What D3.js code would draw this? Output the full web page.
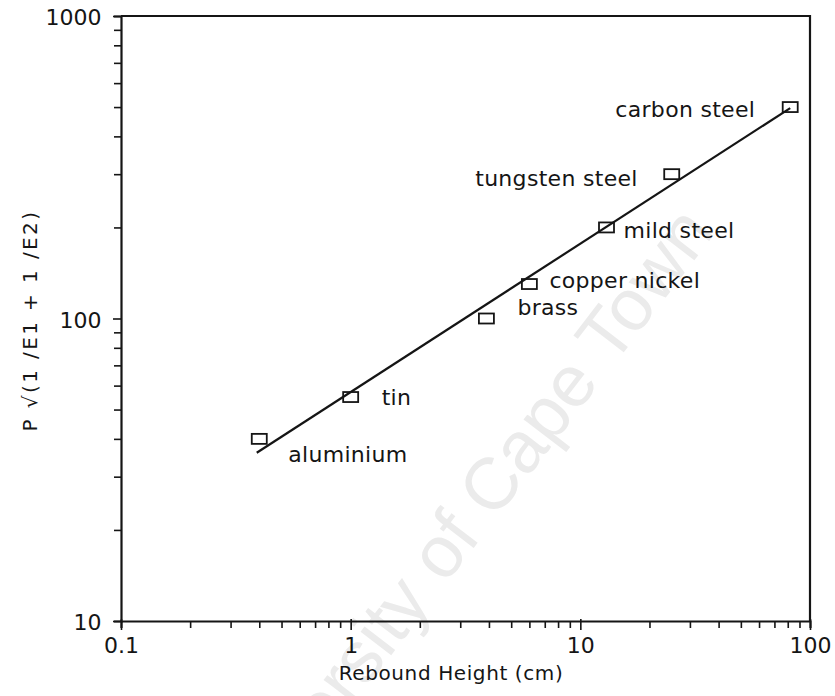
<!DOCTYPE html>
<html>
<head>
<meta charset="utf-8">
<script src="https://cdn.jsdelivr.net/npm/d3@7/dist/d3.min.js"></script>
<style>
  html, body { margin: 0; padding: 0; background: #fff; }
  svg { display: block; }
  text { font-family: "DejaVu Sans", Verdana, sans-serif; fill: #151515; }
</style>
</head>
<body>
<svg id="chart" width="835" height="696"></svg>
<script>
// Rebound test: materials, rebound height (cm) and P·sqrt(1/E1 + 1/E2)
const materials = ["aluminium", "tin", "brass", "copper nickel", "mild steel", "tungsten steel", "carbon steel"];
const reboundHeight = [0.4, 1.0, 3.9, 6.0, 13, 25, 82];
const stiffnessTerm = [40, 55, 100, 130, 200, 300, 500];

// straight-line fit on the log-log axes (end points)
const fitHeight = [0.39, 82];
const fitTerm = [36, 496];

// tick labels
const xTickLabels = [0.1, 1, 10, 100];
const yTickLabels = [10, 100, 1000];

// label placement next to each marker
const labelPlacement = {
  "aluminium":      { dx: 29,  dy: 23, anchor: "start" },
  "tin":            { dx: 31,  dy: 8,  anchor: "start" },
  "brass":          { dx: 31,  dy: -4, anchor: "start" },
  "copper nickel":  { dx: 20,  dy: 4,  anchor: "start" },
  "mild steel":     { dx: 17,  dy: 11, anchor: "start" },
  "tungsten steel": { dx: -34, dy: 12, anchor: "end" },
  "carbon steel":   { dx: -35, dy: 10, anchor: "end" }
};

const svg = d3.select("#chart");
const margin = { left: 121, right: 25, top: 16, bottom: 75 };
const W = 835, H = 696;
const x0 = margin.left, x1 = W - margin.right, y0 = H - margin.bottom, y1 = margin.top;

const x = d3.scaleLog().domain([0.1, 100]).range([x0, x1]);
const y = d3.scaleLog().domain([10, 1000]).range([y0, y1]);

// watermark
svg.append("text")
  .attr("transform", "translate(716,232) rotate(-52.5)")
  .attr("text-anchor", "end")
  .style("font-family", "'Liberation Sans', Arial, sans-serif")
  .style("font-size", "73px")
  .style("fill", "#ebebeb")
  .text("University of Cape Town");

// minor + major tick positions for each decade
function logTicks(lo, hi) {
  const t = [];
  for (let e = Math.log10(lo); e < Math.log10(hi); e++) {
    for (let m = 1; m < 10; m++) t.push(m * Math.pow(10, e));
  }
  t.push(hi);
  return t.map(v => +v.toPrecision(6));
}
const isMajor = v => Math.abs(Math.log10(v) - Math.round(Math.log10(v))) < 1e-9;

const xAxis = d3.axisBottom(x)
  .tickValues(logTicks(0.1, 100))
  .tickSizeOuter(0)
  .tickSize(7)
  .tickPadding(9)
  .tickFormat(v => xTickLabels.some(t => Math.abs(t - v) < 1e-9) ? String(v) : "");

const yAxis = d3.axisLeft(y)
  .tickValues(logTicks(10, 1000))
  .tickSizeOuter(0)
  .tickSize(7)
  .tickPadding(6)
  .tickFormat(v => yTickLabels.some(t => Math.abs(t - v) < 1e-9) ? String(v) : "");

const gx = svg.append("g").attr("transform", `translate(0,${y0})`).call(xAxis);
const gy = svg.append("g").attr("transform", `translate(${x0},0)`).call(yAxis);

[gx, gy].forEach(g => {
  g.select(".domain").attr("stroke", "#151515").attr("stroke-width", 2.2);
  g.selectAll(".tick line").attr("stroke", "#151515").attr("stroke-width", 1.6);
  g.selectAll(".tick text").style("font-size", "22px").style("fill", "#151515")
    .style("font-family", "'DejaVu Sans', Verdana, sans-serif");
});
gx.selectAll(".tick").filter(isMajor).select("line").attr("y1", -2).attr("y2", 9);
gy.selectAll(".tick").filter(isMajor).select("line").attr("x2", -8);
gy.selectAll(".tick text").attr("dx", "-0.3em").attr("dy", "0.4em");

// frame: top and right edges
svg.append("path")
  .attr("d", `M${x0},${y1}H${x1}V${y0}`)
  .attr("fill", "none")
  .attr("stroke", "#151515")
  .attr("stroke-width", 2.2);

// fitted line
const line = d3.line().x(d => x(d[0])).y(d => y(d[1]));
svg.append("path")
  .datum(d3.zip(fitHeight, fitTerm))
  .attr("d", line)
  .attr("fill", "none")
  .attr("stroke", "#151515")
  .attr("stroke-width", 2.2);

// markers
const pts = materials.map((m, i) => ({ name: m, h: reboundHeight[i], p: stiffnessTerm[i] }));
svg.append("g").selectAll("rect")
  .data(pts)
  .join("rect")
  .attr("x", d => x(d.h) - 7.5)
  .attr("y", d => y(d.p) - 5)
  .attr("width", 15)
  .attr("height", 10)
  .attr("fill", "none")
  .attr("stroke", "#151515")
  .attr("stroke-width", 1.8);

// labels
svg.append("g").selectAll("text")
  .data(pts)
  .join("text")
  .attr("x", d => x(d.h) + labelPlacement[d.name].dx)
  .attr("y", d => y(d.p) + labelPlacement[d.name].dy)
  .attr("text-anchor", d => labelPlacement[d.name].anchor)
  .style("font-size", "22px")
  .style("letter-spacing", "0.3px")
  .text(d => d.name);

// axis titles
svg.append("text")
  .attr("x", 451)
  .attr("y", 680)
  .attr("text-anchor", "middle")
  .style("font-size", "20px")
  .style("letter-spacing", "0.6px")
  .text("Rebound Height (cm)");

svg.append("text")
  .attr("transform", `translate(37,${(y0 + y1) / 2 + 2}) rotate(-90)`)
  .attr("text-anchor", "middle")
  .style("font-size", "20px")
  .style("letter-spacing", "2.4px")
  .text("P \u221A(1 /E1 + 1 /E2)");
</script>
</body>
</html>
